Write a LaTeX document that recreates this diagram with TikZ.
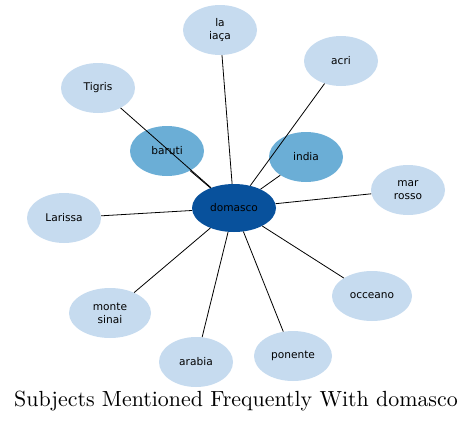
\documentclass[tikz,border=0pt]{standalone}
\usepackage{fontspec}
\newfontfamily\labelfont{DejaVu Sans}
\usepackage{tikz}
\usetikzlibrary{shapes.geometric}

\definecolor{bluelight}{HTML}{C6DBEF}
\definecolor{bluemid}{HTML}{6BAED6}
\definecolor{bluedark}{HTML}{08519C}

\begin{document}
\begin{tikzpicture}[
  x=1pt, y=-1pt,
  topic/.style={ellipse, fill=bluelight, align=center, inner sep=0pt,
                font=\labelfont\fontsize{10.6}{13}\selectfont,
                minimum width=74pt, minimum height=50pt},
  near/.style={topic, fill=bluemid},
  centre/.style={topic, fill=bluedark, minimum width=84pt, minimum height=48pt},
  link/.style={draw=black, line width=0.8pt},
]
\useasboundingbox (0,0) rectangle (473,423);

% --- outer subjects ---
\node[topic] (laiaca)  at (220, 30) {la\\iaça};
\node[topic] (acri)    at (341, 61) {acri};
\node[topic] (tigris)  at ( 98, 88) {Tigris};
\node[topic] (marrosso) at (408,190) {mar\\rosso};
\node[topic] (larissa) at ( 64,218) {Larissa};
\node[topic, minimum width=82pt] (montesinai) at (110,313) {monte\\sinai};
\node[topic, minimum width=80pt] (occeano) at (372,296) {occeano};
\node[topic, minimum width=78pt] (ponente) at (293,356) {ponente};
\node[topic] (arabia)  at (196,362) {arabia};

% --- close subjects ---
\node[near] (baruti) at (167,151) {baruti};
\node[near] (india)  at (306,157) {india};

% --- centre ---
\node[centre] (domasco) at (234,208) {domasco};

% --- links ---
\foreach \s in {laiaca,acri,tigris,marrosso,larissa,montesinai,occeano,ponente,arabia,baruti,india} {
  \draw[link] (\s) -- (domasco);
}

% --- caption ---
\node (caption) at (236,401) {\scalebox{2.19}{\normalsize Subjects Mentioned Frequently With domasco}};

\end{tikzpicture}
\end{document}
